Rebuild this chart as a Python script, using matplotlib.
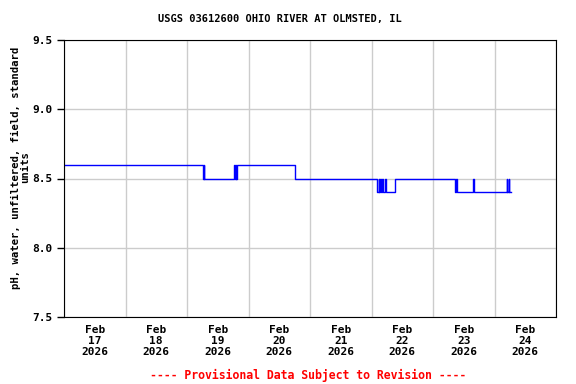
import numpy as np
import pandas as pd
import matplotlib
matplotlib.use('Agg')
import matplotlib.pyplot as plt
import matplotlib.dates as mdates

# change points: hours after Feb 17 2026 00:00, pH value from then on
hours = [0, 54.25, 54.5, 54.75, 66.5, 66.75, 67.0, 67.25, 67.5, 90.0,
         122.25, 122.75, 123.0, 123.5, 123.75, 124.25, 124.5, 125.25, 125.75, 129.0,
         152.5, 153.0, 153.5, 159.5, 160.0, 172.75, 173.0, 173.5, 173.75, 174.5]
ph = [8.6, 8.5, 8.6, 8.5, 8.6, 8.5, 8.6, 8.5, 8.6, 8.5,
      8.4, 8.5, 8.4, 8.5, 8.4, 8.5, 8.4, 8.5, 8.4, 8.5,
      8.4, 8.5, 8.4, 8.5, 8.4, 8.5, 8.4, 8.5, 8.4, 8.4]

start = pd.Timestamp('2026-02-17')
times = [start + pd.Timedelta(hours=h) for h in hours]
days = pd.date_range('2026-02-17', '2026-02-25', freq='D')
day_labels = ['Feb\n%d\n2026' % d.day for d in days[:-1]]

fig = plt.figure(figsize=(5.76, 3.84), dpi=100)
ax = fig.add_axes([64/576, 67/384, 492/576, 277/384])

ax.plot(times, ph, drawstyle='steps-post', color='#0000ff', lw=1)

ax.set_xlim(days[0], days[-1])
ax.set_ylim(7.5, 9.5)
ax.set_xticks(days)
ax.set_xticklabels([])
ax.set_xticks(days[:-1] + pd.Timedelta(hours=12), minor=True)
ax.set_xticklabels(day_labels, minor=True)
ax.tick_params(axis='x', which='both', length=0, pad=6)
ax.set_yticks([7.5, 8.0, 8.5, 9.0, 9.5])
ax.set_yticklabels(['7.5', '8.0', '8.5', '9.0', '9.5'])
ax.tick_params(axis='y', length=5, width=1, pad=3)
ax.grid(True, which='major', color='#cccccc', lw=1)
ax.set_axisbelow(True)

for lab in ax.get_xticklabels(minor=True) + ax.get_yticklabels():
    lab.set_fontfamily('DejaVu Sans Mono')
    lab.set_fontweight('bold')
    lab.set_fontsize(8)
    lab.set_linespacing(1.1)

fnt = dict(family='DejaVu Sans Mono', weight='bold')
ax.set_ylabel('pH, water, unfiltered, field, standard\nunits', fontsize=7.7,
              linespacing=1.0, **fnt)
ax.yaxis.set_label_coords(-0.068, 0.54)
fig.text(280/576, 1 - 19/384, 'USGS 03612600 OHIO RIVER AT OLMSTED, IL', ha='center', va='center',
         fontsize=7.5, **fnt)
fig.text(308/576, 1 - 375/384, '---- Provisional Data Subject to Revision ----', ha='center', va='center',
         color='red', fontsize=8.3, **fnt)

fig.savefig('out.png', dpi=100)
